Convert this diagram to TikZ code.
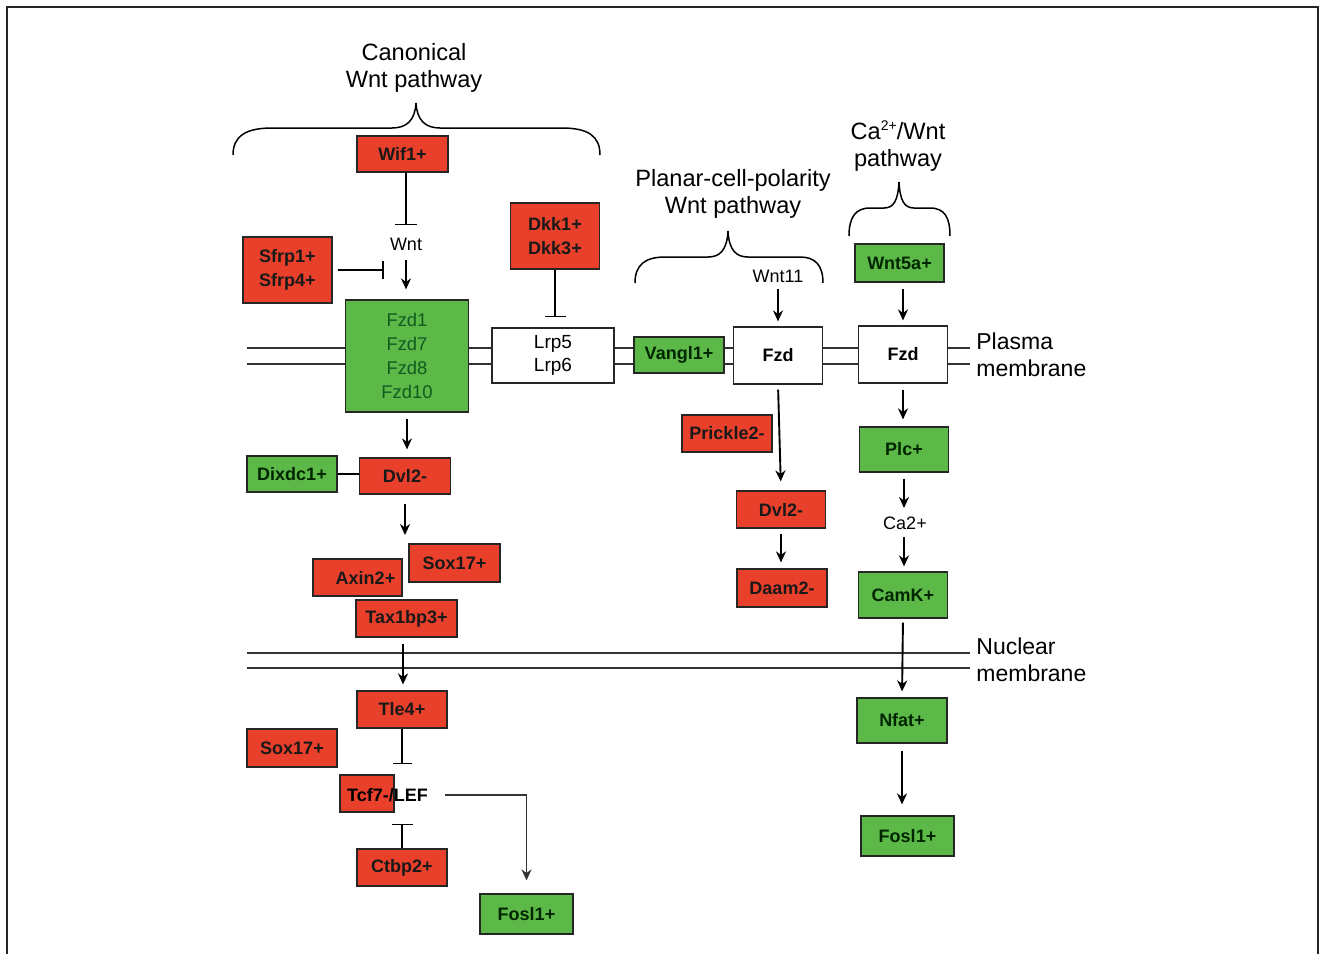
\documentclass[tikz,border=0pt]{standalone}
\usepackage{fontspec}
\setmainfont{Liberation Sans}
\usetikzlibrary{arrows.meta}
\definecolor{boxred}{RGB}{232,64,42}
\definecolor{boxgreen}{RGB}{92,185,72}
\definecolor{fzdtext}{RGB}{18,90,30}
\tikzset{
 bx/.style={draw=black!85, line width=0.6pt, inner sep=0pt, align=center, font=\fontsize{9}{12}\selectfont\bfseries},
 rbox/.style={bx, fill=boxred, text=black!90},
 gbox/.style={bx, fill=boxgreen, text=black!85!green},
 wbox/.style={bx, fill=white, text=black},
 sz/.style 2 args={minimum width=#1, minimum height=#2},
 lbl/.style={inner sep=0pt, font=\fontsize{9}{11}\selectfont},
 ttl/.style={inner sep=0pt, align=center, font=\fontsize{11.8}{13.5}\selectfont},
 arr/.style={line width=0.95pt, -{Stealth[length=5.5pt,width=5pt]}},
 inh/.style={line width=0.8pt, -{Bar[width=#1]}}, inh/.default=11pt,
 mem/.style={line width=0.65pt, draw=black!80},
 brc/.style={line width=0.75pt},
}
\begin{document}
\begin{tikzpicture}[x=0.5pt,y=-0.5pt]
\useasboundingbox (0,0) rectangle (1319,954);
% frame
\draw[line width=1pt, black!85] (7,954) -- (7,7) -- (1318,7) -- (1318,954);

% titles and braces
\node[ttl] (canon) at (414,67.5) {Canonical\\Wnt pathway};
\node[ttl] (pcp) at (733,193.5) {Planar-cell-polarity\\Wnt pathway};
\node[ttl] (catitle) at (898,146) {Ca\raisebox{0.7ex}{\fontsize{7}{7}\selectfont 2+}/Wnt\\pathway};
\draw[brc] (233,155) .. controls (233,136) and (246,128) .. (272,128) -- (392,128) .. controls (407,128) and (415,120) .. (416,103) .. controls (417,120) and (425,128) .. (440,128) -- (562,128) .. controls (588,128) and (600,136) .. (600,155);
\draw[brc] (635,283) .. controls (635,265) and (645,257) .. (665,257) -- (708,257) .. controls (720,257) and (727,250) .. (728,231) .. controls (729,250) and (736,257) .. (748,257) -- (800,257) .. controls (815,257) and (823,265) .. (823,283);
\draw[brc] (849,236) .. controls (849,218) and (855,208) .. (870,208) -- (884,208) .. controls (894,208) and (898,200) .. (899,182) .. controls (900,200) and (904,208) .. (914,208) -- (930,208) .. controls (945,208) and (950,218) .. (950,236);

% nodes
\node[rbox, sz={45.5pt}{18pt}] (wif) at (402.5,154) {Wif1+};
\node[rbox, sz={44.5pt}{33pt}] (sfrp) at (287.5,270) {Sfrp1+\\Sfrp4+};
\node[rbox, sz={44.5pt}{33pt}] (dkk) at (555,236) {Dkk1+\\Dkk3+};
\node[gbox, sz={61.5pt}{56pt}, font=\fontsize{9.2}{12}\selectfont, text=fzdtext] (fzdA) at (407,356) {Fzd1\\Fzd7\\Fzd8\\Fzd10};
\node[wbox, sz={61pt}{27.5pt}, font=\fontsize{9.5}{11.5}\selectfont] (lrp) at (553,355.5) {Lrp5\\Lrp6};
\node[gbox, sz={45pt}{18pt}] (vangl) at (679,355) {Vangl1+};
\node[wbox, sz={44.5pt}{28.5pt}] (fzdB) at (778,355.5) {Fzd};
\node[wbox, sz={44.5pt}{28.5pt}] (fzdC) at (903,354.5) {Fzd};
\node[gbox, sz={44.5pt}{19pt}] (wnt5a) at (899.5,263) {Wnt5a+};
\node[gbox, sz={44.5pt}{22.5pt}] (plc) at (904,449.5) {Plc+};
\node[gbox, sz={44.5pt}{23pt}] (camk) at (903,595) {CamK+};
\node[gbox, sz={45pt}{22.5pt}] (nfat) at (902,720.5) {Nfat+};
\node[gbox, sz={46.5pt}{20pt}] (foslR) at (907.5,836) {Fosl1+};
\node[rbox, sz={45pt}{18.5pt}] (prickle) at (727,433.5) {Prickle2-};
\node[rbox, sz={44.5pt}{18.5pt}] (dvlR) at (781,509.5) {Dvl2-};
\node[rbox, sz={45pt}{19pt}] (daam) at (782,588) {Daam2-};
\node[rbox, sz={45.5pt}{18pt}] (dvlL) at (405,476) {Dvl2-};
\node[gbox, sz={45pt}{18pt}] (dixdc) at (292,474) {Dixdc1+};
\node[rbox, sz={44.5pt}{18.5pt}] (axin) at (357.5,577.5) {\hspace*{8pt}Axin2+};
\node[rbox, sz={45.5pt}{19pt}] (soxA) at (454.5,563) {Sox17+};
\node[rbox, sz={50.5pt}{18.5pt}] (tax) at (406.5,618.5) {Tax1bp3+};
\node[rbox, sz={45pt}{18.5pt}] (tle) at (402,709.5) {Tle4+};
\node[rbox, sz={45pt}{19pt}] (soxB) at (292,748) {Sox17+};
\node[rbox, sz={27pt}{18.5pt}] (tcf) at (367,793.5) {};
\node[lbl, font=\fontsize{9}{11}\selectfont\bfseries] (tcftext) at (387.5,795) {Tcf7-/LEF};
\node[rbox, sz={45pt}{18.5pt}] (ctbp) at (402,867.5) {Ctbp2+};
\node[gbox, sz={46.5pt}{20pt}] (foslL) at (526.5,914) {Fosl1+};

% small labels
\node[lbl] (wnt) at (406,244) {Wnt};
\node[lbl] (wnt11) at (778,276) {Wnt11};
\node[lbl] (ca2) at (905,523) {Ca2+};
\node[inner sep=0pt, anchor=west, align=left, font=\fontsize{11.5}{13.5}\selectfont] (plasma) at (976,354.5) {Plasma\\membrane};
\node[inner sep=0pt, anchor=west, align=left, font=\fontsize{11.5}{13.5}\selectfont] (nuclear) at (976,659.5) {Nuclear\\membrane};

% plasma membrane
\coordinate (pm1) at (247,348);
\coordinate (pm2) at (247,364);
\coordinate (pm1r) at (970,348);
\coordinate (pm2r) at (970,364);
\foreach \p in {pm1,pm2}{
 \draw[mem] (\p) -- (\p -| fzdA.west);
 \draw[mem] (\p -| fzdA.east) -- (\p -| lrp.west);
 \draw[mem] (\p -| lrp.east) -- (\p -| vangl.west);
 \draw[mem] (\p -| vangl.east) -- (\p -| fzdB.west);
 \draw[mem] (\p -| fzdB.east) -- (\p -| fzdC.west);
}
\draw[mem] (pm1 -| fzdC.east) -- (pm1r);
\draw[mem] (pm2 -| fzdC.east) -- (pm2r);

% nuclear membrane
\coordinate (nm1) at (247,653);
\coordinate (nm2) at (247,668);
\coordinate (nm1r) at (970,653);
\coordinate (nm2r) at (970,668);
\draw[mem] (nm1) -- (nm1r);
\draw[mem] (nm2) -- (nm2r);

% canonical connectors
\draw[inh] (wif.south -| wnt.north) -- ([yshift=6pt]wnt.north);
\draw[arr] ([yshift=-8pt]wnt.center) -- ([yshift=5pt]fzdA.north -| wnt.center);
\draw[inh=9pt] ([xshift=2.5pt]sfrp.east) -- ([xshift=-11pt]sfrp.east -| wnt.center);
\draw[inh=10.5pt] (dkk.south) -- ([yshift=5pt]lrp.north -| dkk.south);
\draw[arr, shorten <=3pt, shorten >=4pt] (fzdA.south) -- (fzdA.south |- dvlL.north);
\draw[line width=0.8pt] (dixdc.east) -- (dixdc.east -| dvlL.west);
\coordinate (cluster) at (405,535);
\draw[arr, shorten <=4.5pt] (dvlL.south) -- (cluster);
\draw[arr, shorten <=3pt, shorten >=3pt] ([xshift=-1.75pt]tax.south) -- ([xshift=-1.75pt]tax.south |- tle.north);
\draw[inh=9.5pt] (tle.south) -- ([yshift=5pt]tcf.north -| tle.south);
\draw[inh=10.5pt] (ctbp.north) -- ([yshift=-5.5pt]tcf.south -| ctbp.north);
\draw[arr, black!80] ([xshift=8.5pt]tcftext.east) -| ([yshift=6.5pt]foslL.north);

% PCP connectors
\draw[arr] ([yshift=-6.5pt]wnt11.center) -- ([yshift=2.5pt]fzdB.north -| wnt11.center);
\draw[arr, shorten <=2.5pt, shorten >=4.5pt] (fzdB.south) -- (dvlR.north);
\draw[arr, shorten <=2.5pt, shorten >=3pt] (dvlR.south) -- (dvlR.south |- daam.north);

% Ca connectors
\draw[arr] ([yshift=-3pt]wnt5a.south -| fzdC.north) -- ([yshift=2.5pt]fzdC.north);
\draw[arr, shorten <=3pt, shorten >=3.5pt] (fzdC.south) -- (fzdC.south |- plc.north);
\draw[arr, shorten <=3pt] (plc.south) -- ([yshift=7.5pt]ca2.center -| plc.south);
\draw[arr] ([yshift=-7pt]ca2.center -| plc.south) -- ([yshift=2.5pt]camk.north -| plc.south);
\draw[arr, shorten <=2pt, shorten >=3pt] (camk.south) -- (nfat.north);
\draw[arr, shorten <=3.5pt, shorten >=5.5pt] (nfat.south) -- (nfat.south |- foslR.north);
\end{tikzpicture}
\end{document}
